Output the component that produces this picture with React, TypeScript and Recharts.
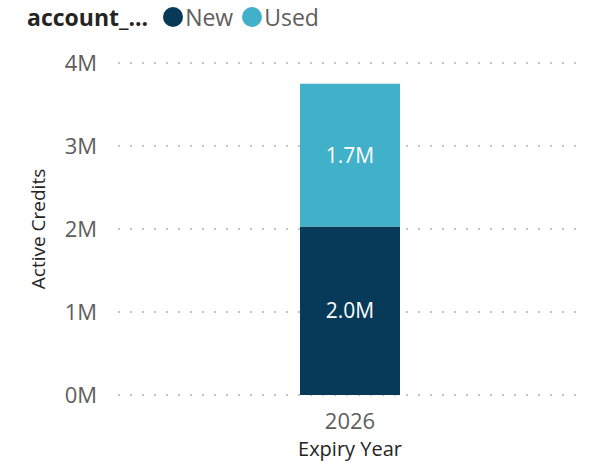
import React from 'react'
import { BarChart, Bar, XAxis, YAxis, CartesianGrid, LabelList } from 'recharts'

// Values
const years = ['2026']
const newCredits = [2030000]
const usedCredits = [1720000]
const yTicks = [0, 1000000, 2000000, 3000000, 4000000]

const NEW_COLOR = '#063A58'
const USED_COLOR = '#41B0C9'
const FONT = '"Open Sans", "Noto Sans", sans-serif'

const data = years.map((year, i) => ({
  year,
  New: newCredits[i],
  Used: usedCredits[i],
}))

const fmtAxis = (v: number) => `${v / 1000000}M`
const fmtLabel = (v: any) => `${(Number(v) / 1000000).toFixed(1)}M`

const LegendRow = () => (
  <div
    style={{
      position: 'absolute',
      left: 27,
      top: 2,
      display: 'flex',
      alignItems: 'center',
      fontFamily: FONT,
      fontSize: 23,
      color: '#252423',
      lineHeight: '30px',
      whiteSpace: 'nowrap',
    }}
  >
    <span style={{ fontWeight: 700, marginRight: 15, fontSize: 23 }}>account_...</span>
    {[
      { name: 'New', color: NEW_COLOR },
      { name: 'Used', color: USED_COLOR },
    ].map((item) => (
      <span key={item.name} style={{ display: 'flex', alignItems: 'center', marginRight: 9 }}>
        <span
          style={{
            width: 20,
            height: 20,
            borderRadius: '50%',
            background: item.color,
            display: 'inline-block',
            marginRight: 2,
          }}
        />
        <span style={{ color: '#605E5C' }}>{item.name}</span>
      </span>
    ))}
  </div>
)

export default function App() {
  return (
    <div style={{ position: 'absolute', left: 0, top: 0, width: 598, height: 462, background: '#fff' }}>
      <LegendRow />
      <BarChart
        width={598}
        height={462}
        data={data}
        margin={{ top: 63, right: 16, bottom: 0, left: 0 }}
        style={{ fontFamily: FONT }}
      >
        <CartesianGrid
          vertical={false}
          stroke="#C8C6C4"
          strokeWidth={2}
          strokeDasharray="2 10"
        />
        <XAxis
          dataKey="year"
          axisLine={false}
          tickLine={false}
          tickSize={0}
          tickMargin={18}
          height={67}
          tick={{ fill: '#605E5C', fontSize: 22 }}
          label={{
            value: 'Expiry Year',
            position: 'insideBottom',
            offset: 6,
            fill: '#252423',
            fontSize: 20,
          }}
        />
        <YAxis
          domain={[0, 4000000]}
          ticks={yTicks}
          tickFormatter={fmtAxis}
          axisLine={false}
          tickLine={false}
          tickSize={0}
          tickMargin={21}
          width={118}
          tick={{ fill: '#605E5C', fontSize: 22 }}
          label={{
            value: 'Active Credits',
            angle: -90,
            position: 'insideLeft',
            offset: 38,
            fill: '#252423',
            fontSize: 19,
            style: { textAnchor: 'middle' },
          }}
        />
        <Bar dataKey="New" stackId="a" fill={NEW_COLOR} barSize={100} isAnimationActive={false}>
          <LabelList dataKey="New" position="center" formatter={fmtLabel} fill="#fff" fontSize={21} />
        </Bar>
        <Bar dataKey="Used" stackId="a" fill={USED_COLOR} barSize={100} isAnimationActive={false}>
          <LabelList dataKey="Used" position="center" formatter={fmtLabel} fill="#fff" fontSize={21} />
        </Bar>
      </BarChart>
    </div>
  )
}
